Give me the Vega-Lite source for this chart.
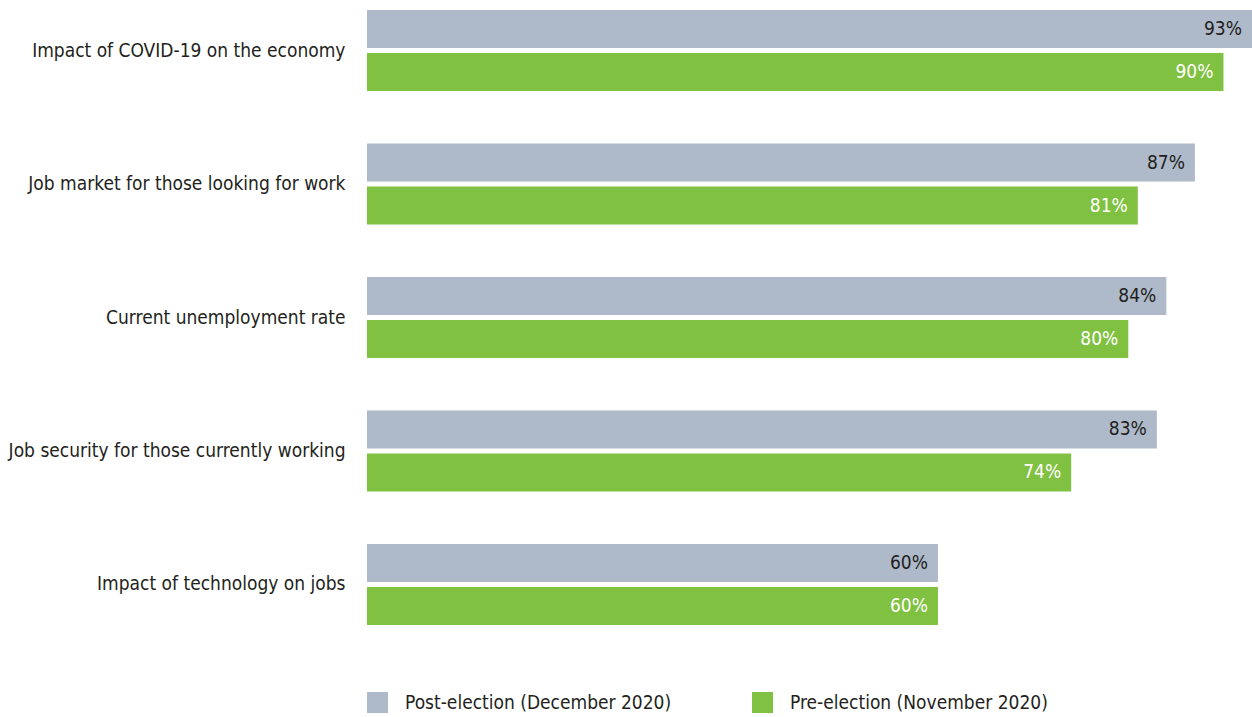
{
  "$schema": "https://vega.github.io/schema/vega-lite/v6.json",
  "width": 885,
  "height": 635,
  "autosize": {"type": "none"},
  "padding": {"left": 367, "top": 0, "right": 0, "bottom": 82},
  "background": "white",
  "config": {
    "view": {"stroke": null},
    "font": "DejaVu Sans Condensed"
  },
  "data": {
    "values": [
      {"category": "Impact of COVID-19 on the economy", "series": "Post-election (December 2020)", "value": 0.93},
      {"category": "Impact of COVID-19 on the economy", "series": "Pre-election (November 2020)", "value": 0.90},
      {"category": "Job market for those looking for work", "series": "Post-election (December 2020)", "value": 0.87},
      {"category": "Job market for those looking for work", "series": "Pre-election (November 2020)", "value": 0.81},
      {"category": "Current unemployment rate", "series": "Post-election (December 2020)", "value": 0.84},
      {"category": "Current unemployment rate", "series": "Pre-election (November 2020)", "value": 0.80},
      {"category": "Job security for those currently working", "series": "Post-election (December 2020)", "value": 0.83},
      {"category": "Job security for those currently working", "series": "Pre-election (November 2020)", "value": 0.74},
      {"category": "Impact of technology on jobs", "series": "Post-election (December 2020)", "value": 0.60},
      {"category": "Impact of technology on jobs", "series": "Pre-election (November 2020)", "value": 0.60}
    ]
  },
  "encoding": {
    "y": {
      "field": "category",
      "type": "nominal",
      "sort": null,
      "title": null,
      "scale": {"paddingInner": 0.393, "paddingOuter": 0.075},
      "axis": {
        "ticks": false,
        "domain": false,
        "labelPadding": 22,
        "labelFontSize": 19,
        "labelColor": "#231F20",
        "labelFont": "DejaVu Sans Condensed",
        "labelLimit": 400
      }
    },
    "yOffset": {
      "field": "series",
      "type": "nominal",
      "sort": ["Post-election (December 2020)", "Pre-election (November 2020)"],
      "scale": {"paddingInner": 0.116, "paddingOuter": 0}
    },
    "x": {
      "field": "value",
      "type": "quantitative",
      "scale": {"domain": [0, 0.93], "nice": false},
      "axis": null
    }
  },
  "layer": [
    {
      "mark": {"type": "bar"},
      "encoding": {
        "color": {
          "field": "series",
          "type": "nominal",
          "scale": {
            "domain": ["Post-election (December 2020)", "Pre-election (November 2020)"],
            "range": ["#AEB9CA", "#80C141"]
          },
          "legend": {
            "title": null,
            "orient": "none",
            "direction": "horizontal",
            "legendX": 0,
            "legendY": 692,
            "symbolType": "square",
            "symbolSize": 440,
            "symbolStrokeWidth": 0,
            "symbolOpacity": 1,
            "labelFontSize": 19,
            "labelFont": "DejaVu Sans Condensed",
            "labelColor": "#231F20",
            "labelOffset": 17,
            "columnPadding": 80,
            "labelLimit": 400
          }
        }
      }
    },
    {
      "mark": {"type": "text", "align": "right", "baseline": "middle", "dx": -10, "fontSize": 19, "font": "DejaVu Sans Condensed"},
      "encoding": {
        "text": {"field": "value", "type": "quantitative", "format": ".0%"},
        "color": {
          "condition": {"test": "datum.series === 'Post-election (December 2020)'", "value": "#231F20"},
          "value": "#FFFFFF"
        }
      }
    }
  ]
}
